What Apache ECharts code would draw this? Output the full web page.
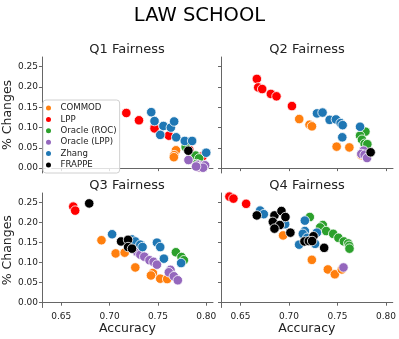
<!DOCTYPE html>
<html>
<head>
<meta charset="utf-8">
<script src="https://cdn.jsdelivr.net/npm/echarts@6/dist/echarts.min.js"></script>
<style>
  html, body { margin: 0; padding: 0; background: #fff; }
  #chart { width: 399px; height: 339px; }
</style>
</head>
<body>
<div id="chart"></div>
<script>
// methods, in plotting order
const methods = ['COMMOD', 'LPP', 'Oracle (ROC)', 'Oracle (LPP)', 'Zhang', 'FRAPPE'];
const colors = ['#ff7f0e', '#ff0000', '#2ca02c', '#9467bd', '#1f77b4', '#000000'];

const xTicks = [0.65, 0.70, 0.75, 0.80];
const yTicks = [0, 0.05, 0.10, 0.15, 0.20, 0.25];

// [accuracy, % changes]
const q1Commod = [[0.7687, 0.044], [0.7668, 0.032], [0.7665, 0.027], [0.7935, 0.001]];
const q1Lpp = [[0.7173, 0.136], [0.7304, 0.118], [0.7465, 0.102], [0.7465, 0.098], [0.7613, 0.080], [0.7825, 0.045], [0.7962, 0.029]];
const q1Roc = [[0.7787, 0.052], [0.789, 0.031], [0.7926, 0.024], [0.790, 0.010]];
const q1OLpp = [[0.7816, 0.020], [0.7916, 0.008], [0.7954, 0.006], [0.7988, 0.007], [0.7926, 0.002], [0.7967, 0.001], [0.7895, 0.004]];
const q1Zhang = [[0.7431, 0.138], [0.7465, 0.116], [0.7557, 0.104], [0.7524, 0.082], [0.7634, 0.100], [0.7668, 0.115], [0.7689, 0.076], [0.7778, 0.067], [0.7854, 0.067], [0.800, 0.038]];
const q1Frappe = [[0.7815, 0.043]];

const q2Commod = [[0.7105, 0.121], [0.7211, 0.107], [0.7236, 0.103], [0.749, 0.053], [0.7621, 0.051], [0.7744, 0.032]];
const q2Lpp = [[0.6669, 0.220], [0.6683, 0.199], [0.6724, 0.195], [0.6813, 0.183], [0.6871, 0.177], [0.703, 0.153]];
const q2Roc = [[0.7786, 0.090], [0.7731, 0.080], [0.7751, 0.070], [0.7778, 0.060], [0.7806, 0.059]];
const q2OLpp = [[0.7768, 0.043], [0.7744, 0.035], [0.7778, 0.033], [0.7803, 0.025]];
const q2Zhang = [[0.7288, 0.135], [0.7345, 0.137], [0.7418, 0.119], [0.7483, 0.120], [0.7531, 0.111], [0.7552, 0.106], [0.7548, 0.076], [0.7731, 0.102]];
const q2Frappe = [[0.784, 0.039]];

const q3Commod = [[0.6916, 0.156], [0.7063, 0.123], [0.7156, 0.125], [0.7266, 0.088], [0.7448, 0.074], [0.7428, 0.068], [0.7524, 0.060], [0.7596, 0.059]];
const q3Lpp = [[0.6624, 0.240], [0.6644, 0.230]];
const q3Roc = [[0.7686, 0.126], [0.7744, 0.114], [0.7768, 0.106]];
const q3OLpp = [[0.7283, 0.127], [0.7318, 0.120], [0.7359, 0.115], [0.7413, 0.106], [0.7455, 0.102], [0.749, 0.095], [0.763, 0.082], [0.7613, 0.076], [0.7665, 0.066], [0.7706, 0.056]];
const q3Zhang = [[0.7026, 0.171], [0.7232, 0.158], [0.7266, 0.153], [0.7318, 0.145], [0.7341, 0.139], [0.749, 0.150], [0.7524, 0.139], [0.7562, 0.110], [0.774, 0.099]];
const q3Frappe = [[0.6789, 0.248], [0.7119, 0.153], [0.7191, 0.157], [0.7191, 0.139], [0.7232, 0.135]];

const q4Commod = [[0.694, 0.168], [0.7236, 0.107], [0.7401, 0.083], [0.7473, 0.071], [0.7545, 0.083]];
const q4Lpp = [[0.6387, 0.265], [0.6428, 0.260], [0.6559, 0.247]];
const q4Roc = [[0.7215, 0.214], [0.7349, 0.194], [0.7322, 0.188], [0.7384, 0.179], [0.7456, 0.172], [0.751, 0.162], [0.7566, 0.153], [0.7611, 0.148], [0.7621, 0.142], [0.7624, 0.135]];
const q4OLpp = [[0.7562, 0.088]];
const q4Zhang = [[0.6703, 0.230], [0.6741, 0.221], [0.6961, 0.196], [0.7164, 0.205], [0.7164, 0.179], [0.7143, 0.172], [0.7288, 0.175], [0.7188, 0.162], [0.7105, 0.145], [0.727, 0.147]];
const q4Frappe = [[0.6669, 0.218], [0.6851, 0.218], [0.6923, 0.229], [0.6964, 0.214], [0.6834, 0.202], [0.6906, 0.194], [0.6851, 0.185], [0.7015, 0.175], [0.7253, 0.166], [0.716, 0.153], [0.7205, 0.154], [0.7239, 0.154], [0.7363, 0.137]];

const panels = [
  [q1Commod, q1Lpp, q1Roc, q1OLpp, q1Zhang, q1Frappe],
  [q2Commod, q2Lpp, q2Roc, q2OLpp, q2Zhang, q2Frappe],
  [q3Commod, q3Lpp, q3Roc, q3OLpp, q3Zhang, q3Frappe],
  [q4Commod, q4Lpp, q4Roc, q4OLpp, q4Zhang, q4Frappe]
];
const panelTitles = ['Q1 Fairness', 'Q2 Fairness', 'Q3 Fairness', 'Q4 Fairness'];

const font = 'DejaVu Sans';
const axisColor = '#666';
const textColor = '#222';

const gridPos = [
  { left: 41, top: 57, width: 172, height: 116 },
  { left: 221, top: 57, width: 172, height: 116 },
  { left: 41, top: 193, width: 172, height: 114.5 },
  { left: 221, top: 193, width: 172, height: 114.5 }
];

const chart = echarts.init(document.getElementById('chart'));

const xAxes = gridPos.map((g, i) => ({
  type: 'value',
  gridIndex: i,
  min: 0.63,
  max: 0.807,
  name: i >= 2 ? 'Accuracy' : '',
  nameLocation: 'middle',
  nameGap: 13,
  nameTextStyle: { fontFamily: font, fontSize: 12.5, color: textColor },
  axisLine: { lineStyle: { color: axisColor, width: 1 } },
  axisTick: { show: true, length: 3, customValues: xTicks, lineStyle: { color: axisColor } },
  axisLabel: {
    show: i >= 2,
    customValues: xTicks,
    formatter: v => v.toFixed(2),
    fontFamily: font, fontSize: 9, color: textColor, margin: 5
  },
  splitLine: { show: false }
}));

const yAxes = gridPos.map((g, i) => ({
  type: 'value',
  gridIndex: i,
  min: -0.012,
  max: 0.274,
  name: i % 2 === 0 ? '% Changes' : '',
  nameLocation: 'middle',
  nameGap: 24,
  nameRotate: 90,
  nameTextStyle: { fontFamily: font, fontSize: 12.5, color: textColor },
  axisLine: { show: true, lineStyle: { color: axisColor, width: 1 } },
  axisTick: { show: true, length: 3, customValues: yTicks, lineStyle: { color: axisColor } },
  axisLabel: {
    show: i % 2 === 0,
    customValues: yTicks,
    formatter: v => v.toFixed(2),
    fontFamily: font, fontSize: 9, color: textColor, margin: 4
  },
  splitLine: { show: false }
}));

const series = [];
panels.forEach((sets, p) => {
  sets.forEach((data, m) => {
    series.push({
      name: methods[m],
      type: 'scatter',
      xAxisIndex: p,
      yAxisIndex: p,
      data: data,
      symbolSize: 9.5,
      itemStyle: { color: colors[m], borderColor: '#fff', borderWidth: 0.8, opacity: 1 },
      emphasis: { disabled: true },
      z: 2 + m
    });
  });
});

const titles = [{
  text: 'LAW SCHOOL',
  left: 199.5, top: 6, textAlign: 'center', padding: 0,
  textStyle: { fontFamily: font, fontSize: 19.5, fontWeight: 'normal', color: '#000' }
}];
const titleCenters = [[127, 43], [307, 43], [127, 179], [307, 179]];
panelTitles.forEach((t, i) => {
  titles.push({
    text: t,
    left: titleCenters[i][0], top: titleCenters[i][1], textAlign: 'center', padding: 0,
    textStyle: { fontFamily: font, fontSize: 13, fontWeight: 'normal', color: textColor }
  });
});

chart.setOption({
  animation: false,
  backgroundColor: '#fff',
  title: titles,
  grid: gridPos,
  xAxis: xAxes,
  yAxis: yAxes,
  legend: {
    data: methods,
    orient: 'vertical',
    left: 43, top: 100,
    z: 20,
    padding: [3, 3, 3, 1],
    itemGap: 1.4,
    itemWidth: 14,
    itemHeight: 7,
    icon: 'circle',
    backgroundColor: 'rgba(255,255,255,0.8)',
    borderColor: '#d0d0d0',
    borderWidth: 1,
    borderRadius: 3,
    selectedMode: false,
    textStyle: { fontFamily: font, fontSize: 8.6, color: textColor, lineHeight: 10, padding: [0, 0, 0, 0] }
  },
  series: series
});
</script>
</body>
</html>
